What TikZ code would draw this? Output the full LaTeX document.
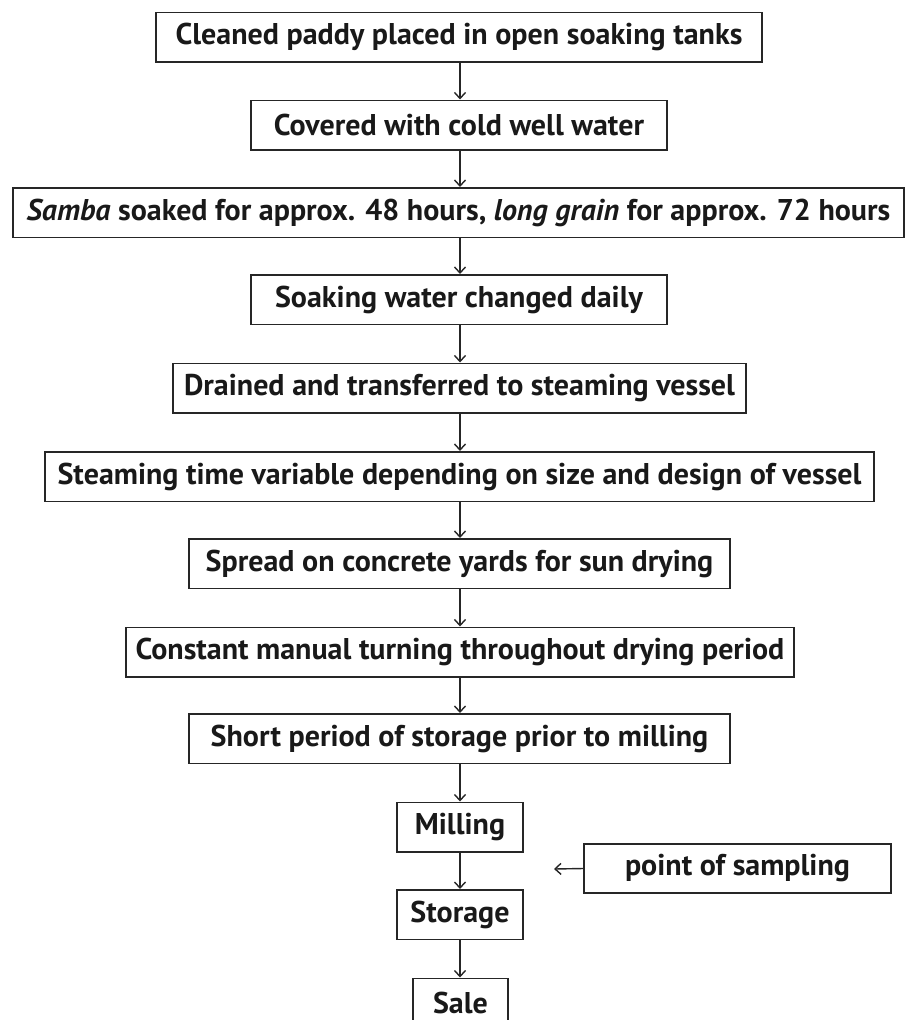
\documentclass[tikz,border=0pt]{standalone}
\usepackage{fontspec}
\setmainfont{PT Sans}
\usetikzlibrary{arrows.meta}
\begin{document}
\begin{tikzpicture}[x=1pt,y=-1pt,
  stepbox/.style={draw=black!85, line width=1.5pt, inner sep=0pt, minimum height=49.5pt,
    font=\fontsize{30}{33}\selectfont\bfseries, text=black!90},
  flow/.style={draw=black!85, line width=1.4pt, -{Straight Barb[length=6pt,width=11pt,line width=1.4pt]}}]
\useasboundingbox (0,0) rectangle (905,1020);
\clip (0,0) rectangle (905,1020);
\node[stepbox, minimum width=606pt] (b1) at (459,37) {Cleaned paddy placed in open soaking tanks};
\node[stepbox, minimum width=416pt] (b2) at (459,125) {Covered with cold well water};
\node[stepbox, minimum width=891pt] (b3) at (458.5,212.5) {\textit{Samba} soaked for approx. 48 hours, \textit{long grain} for approx. 72 hours};
\node[stepbox, minimum width=416pt] (b4) at (459,299.5) {Soaking water changed daily};
\node[stepbox, minimum width=573pt] (b5) at (459.5,388) {Drained and transferred to steaming vessel};
\node[stepbox, minimum width=829pt] (b6) at (459.5,476.5) {Steaming time variable depending on size and design of vessel};
\node[stepbox, minimum width=541pt] (b7) at (459.5,563.5) {Spread on concrete yards for sun drying};
\node[stepbox, minimum width=668pt] (b8) at (460,652) {Constant manual turning throughout drying period};
\node[stepbox, minimum width=541pt] (b9) at (459.5,738.5) {Short period of storage prior to milling};
\node[stepbox, minimum width=126pt] (b10) at (460,827) {Milling};
\node[stepbox, minimum width=126pt] (b11) at (460,914.5) {Storage};
\node[stepbox, minimum width=95pt] (b12) at (460.5,1003) {Sale};
\node[stepbox, minimum width=307pt, minimum height=49pt] (ps) at (737.5,868.5) {point of sampling};
\coordinate (pt) at (554,869);
\foreach \a/\b in {b1/b2,b2/b3,b3/b4,b4/b5,b5/b6,b6/b7,b7/b8,b8/b9,b9/b10,b10/b11,b11/b12}
  \draw[flow] (\a.south -| b10) -- (\b.north -| b10);
\draw[flow] (ps.west) -- (pt);
\end{tikzpicture}
\end{document}
